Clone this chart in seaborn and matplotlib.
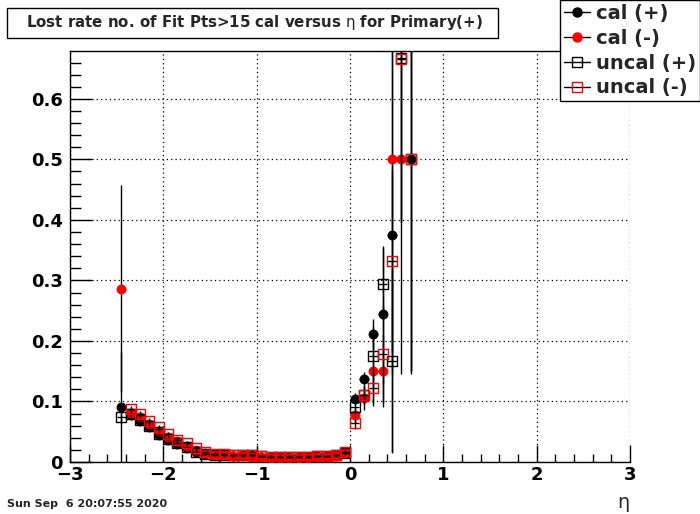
import numpy as np
import pandas as pd
import matplotlib
matplotlib.use("Agg")
import matplotlib.pyplot as plt
from matplotlib.lines import Line2D
from matplotlib.patches import Rectangle
from matplotlib.ticker import MultipleLocator
import seaborn as sns

# ---------------- data ----------------
eta = [-2.45, -2.35, -2.25, -2.15, -2.05, -1.95, -1.85, -1.75, -1.65, -1.55,
       -1.45, -1.35, -1.25, -1.15, -1.05, -0.95, -0.85, -0.75, -0.65, -0.55,
       -0.45, -0.35, -0.25, -0.15, -0.05, 0.05, 0.15, 0.25, 0.35, 0.45,
       0.55, 0.65]

cal_plus = [0.091, 0.078, 0.067, 0.058, 0.045, 0.036, 0.030, 0.023, 0.016, 0.013,
            0.012, 0.011, 0.010, 0.011, 0.012, 0.009, 0.008, 0.008, 0.009, 0.009,
            0.008, 0.010, 0.010, 0.011, 0.015, 0.104, 0.137, 0.212, 0.244, 0.375,
            np.nan, 0.500]
cal_plus_err = [0.091, 0.006, 0.005, 0.005, 0.004, 0.004, 0.003, 0.003, 0.003, 0.002,
                0.002, 0.002, 0.002, 0.002, 0.002, 0.002, 0.002, 0.002, 0.002, 0.002,
                0.002, 0.002, 0.002, 0.002, 0.003, 0.010, 0.012, 0.024, 0.113, 0.360,
                0.0, 0.355]

cal_minus = [0.286, 0.081, 0.074, 0.063, 0.051, 0.041, 0.034, 0.027, 0.020, 0.015,
             0.013, 0.012, 0.010, 0.010, 0.009, 0.008, 0.007, 0.007, 0.007, 0.007,
             0.007, 0.008, 0.008, 0.010, 0.017, 0.077, 0.106, 0.150, 0.150, 0.500,
             0.500, np.nan]
cal_minus_err = [0.171, 0.006, 0.005, 0.005, 0.004, 0.004, 0.003, 0.003, 0.003, 0.002,
                 0.002, 0.002, 0.002, 0.002, 0.002, 0.002, 0.002, 0.002, 0.002, 0.002,
                 0.002, 0.002, 0.002, 0.002, 0.003, 0.012, 0.020, 0.057, 0.059, 0.355,
                 0.355, 0.0]

uncal_plus = [0.075, 0.080, 0.069, 0.060, 0.047, 0.038, 0.031, 0.024, 0.017, 0.014,
              0.012, 0.011, 0.011, 0.011, 0.012, 0.010, 0.009, 0.009, 0.009, 0.009,
              0.009, 0.010, 0.010, 0.011, 0.015, 0.091, 0.111, 0.175, 0.294, 0.167,
              0.667, 0.500]
uncal_plus_err = [0.010, 0.006, 0.005, 0.005, 0.004, 0.004, 0.003, 0.003, 0.003, 0.002,
                  0.002, 0.002, 0.002, 0.002, 0.002, 0.002, 0.002, 0.002, 0.002, 0.002,
                  0.002, 0.002, 0.002, 0.002, 0.003, 0.010, 0.015, 0.050, 0.060, 0.150,
                  0.270, 0.350]

uncal_minus = [np.nan, 0.087, 0.079, 0.068, 0.057, 0.046, 0.037, 0.031, 0.023, 0.016,
               0.014, 0.013, 0.011, 0.011, 0.011, 0.010, 0.009, 0.009, 0.009, 0.009,
               0.009, 0.010, 0.010, 0.011, 0.016, 0.064, 0.110, 0.122, 0.178, 0.332,
               0.666, 0.500]
uncal_minus_err = [0.0, 0.006, 0.005, 0.005, 0.004, 0.004, 0.003, 0.003, 0.003, 0.002,
                   0.002, 0.002, 0.002, 0.002, 0.002, 0.002, 0.002, 0.002, 0.002, 0.002,
                   0.002, 0.002, 0.002, 0.002, 0.003, 0.010, 0.015, 0.025, 0.080, 0.150,
                   0.270, 0.350]

bin_half_width = 0.05

series_labels = ["cal (+)", "cal (-)", "uncal (+)", "uncal (-)"]
title_text = r"Lost rate no. of Fit Pts>15 cal versus $\mathrm{\eta}$ for Primary(+)"
date_text = "Sun Sep  6 20:07:55 2020"
xticks = [-3, -2, -1, 0, 1, 2, 3]
yticks = [0, 0.1, 0.2, 0.3, 0.4, 0.5, 0.6]

# ---------------- figure ----------------
sns.set_style("ticks")
plt.rcParams['font.family'] = ['DejaVu Sans']
plt.rcParams['mathtext.fontset'] = 'dejavusans'

fig = plt.figure(figsize=(7.0, 5.14), dpi=100)
ax = fig.add_axes([0.1, 1 - 462 / 514, 0.8, (462 - 51) / 514])

styles = [
    dict(vals=cal_plus, err=cal_plus_err, marker="o", color="black", filled=True, s=40),
    dict(vals=cal_minus, err=cal_minus_err, marker="o", color="red", filled=True, s=40),
    dict(vals=uncal_plus, err=uncal_plus_err, marker="s", color="black", filled=False, s=52),
    dict(vals=uncal_minus, err=uncal_minus_err, marker="s", color="red", filled=False, s=52),
]

handles = []
for i, (lab, st) in enumerate(zip(series_labels, styles)):
    df = pd.DataFrame({"eta": eta, "rate": st["vals"], "err": st["err"]}).dropna()
    z = 3 + 2 * i
    ax.errorbar(df["eta"], df["rate"], yerr=df["err"], xerr=bin_half_width,
                fmt="none", ecolor="black", elinewidth=1.0, capsize=0, zorder=z)
    if st["filled"]:
        sns.scatterplot(data=df, x="eta", y="rate", ax=ax, marker=st["marker"],
                        s=st["s"], color=st["color"], edgecolor=st["color"],
                        linewidth=0.8, zorder=z + 1, legend=False)
        h = Line2D([], [], color="black", lw=1, marker=st["marker"], ms=6.5,
                   mfc=st["color"], mec=st["color"])
    else:
        sns.scatterplot(data=df, x="eta", y="rate", ax=ax, marker=st["marker"],
                        s=st["s"], color=st["color"], facecolor="none",
                        edgecolor=st["color"], linewidth=1.0, zorder=z + 1, legend=False)
        h = Line2D([], [], color="black", lw=1, marker=st["marker"], ms=7,
                   mfc="none", mec=st["color"], mew=1.0)
    handles.append(h)

ax.set_xlim(-3, 3)
ax.set_ylim(0, 0.679)
ax.set_xticks(xticks)
ax.set_yticks(yticks)
ax.set_yticklabels(["0", "0.1", "0.2", "0.3", "0.4", "0.5", "0.6"])
ax.xaxis.set_minor_locator(MultipleLocator(0.2))
ax.yaxis.set_minor_locator(MultipleLocator(0.02))
ax.tick_params(axis="both", which="both", direction="in", colors="black")
ax.tick_params(axis="x", which="major", length=12, width=1, pad=3)
ax.tick_params(axis="x", which="minor", length=6, width=1)
ax.tick_params(axis="y", which="major", length=16, width=1, pad=5)
ax.tick_params(axis="y", which="minor", length=8, width=1)
for lbl in ax.get_xticklabels() + ax.get_yticklabels():
    lbl.set_fontweight("bold")
    lbl.set_fontsize(13)
ax.set_xlabel("")
ax.set_ylabel("")
ax.grid(True, which="major", color="black", linestyle=(0, (1, 2.5)), linewidth=0.9)
ax.spines["right"].set_visible(False)
for sp in ["left", "bottom", "top"]:
    ax.spines[sp].set_color("black")
    ax.spines[sp].set_linewidth(1.0)

# title box
fig.patches.append(Rectangle((7 / 700, 1 - 38 / 514), 491 / 700, 30 / 514,
                             transform=fig.transFigure, fc="white", ec="black", lw=1))
fig.text(254 / 700, 1 - 23 / 514, title_text, ha="center", va="center",
         fontsize=10.8, fontweight="bold")

# legend
leg = fig.legend(handles=handles, labels=series_labels, loc="upper left",
                 bbox_to_anchor=(560 / 700, 1.0), bbox_transform=fig.transFigure,
                 borderaxespad=0, frameon=True, fancybox=False, framealpha=1,
                 edgecolor="black", prop=dict(weight="bold", size=14),
                 handlelength=1.35, handletextpad=0.3, labelspacing=0.3,
                 borderpad=0.2)
leg.get_frame().set_linewidth(1.0)

fig.text(7 / 700, 1 - 504 / 514, date_text, ha="left", va="center",
         fontsize=8, fontweight="bold")
fig.text(623 / 700, 1 - 505 / 514, r"$\mathrm{\eta}$", ha="center", va="center",
         fontsize=14)

fig.savefig("out.png", dpi=100)
